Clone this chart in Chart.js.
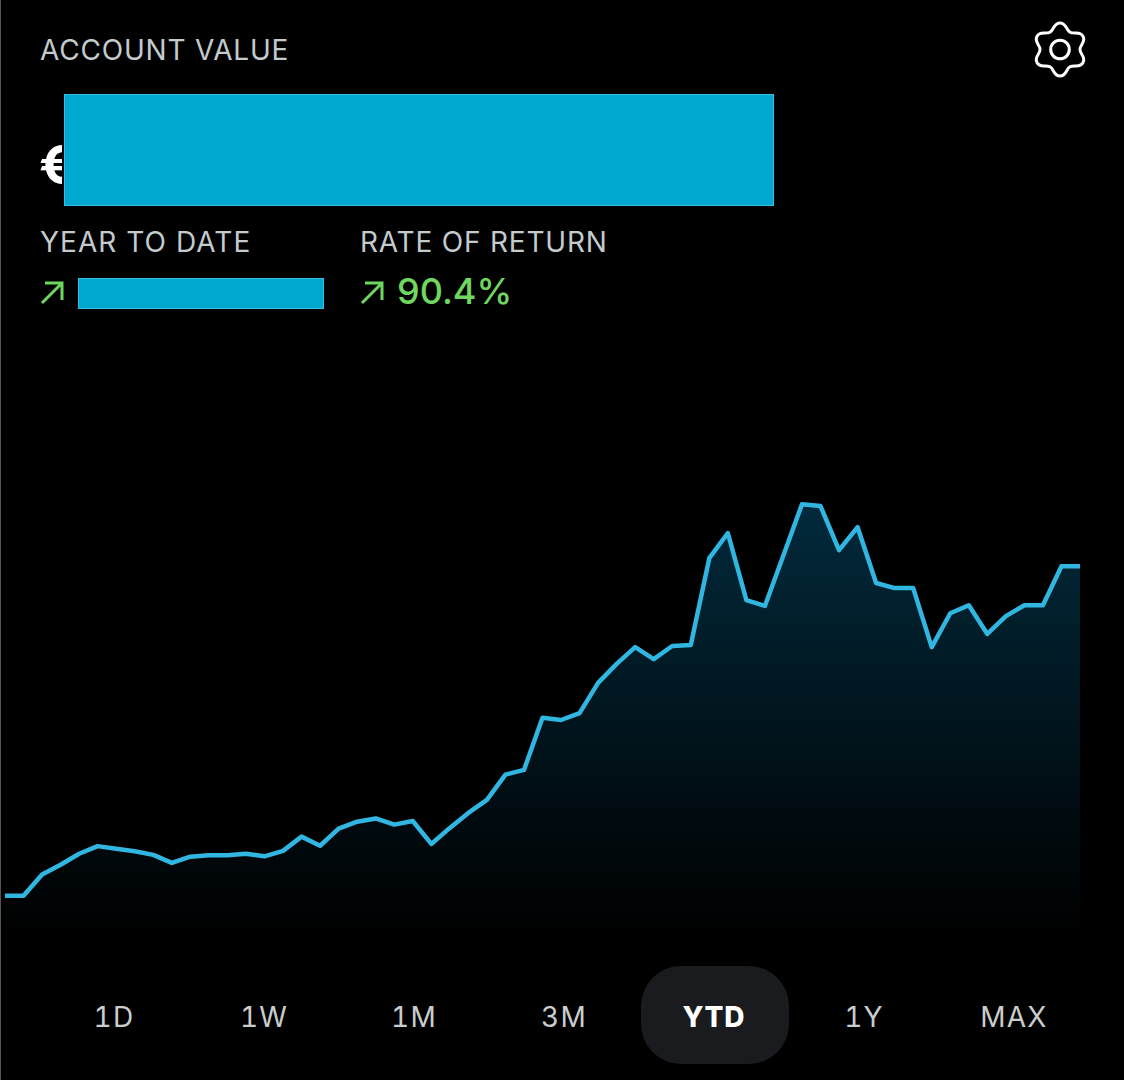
<!DOCTYPE html>
<html>
<head>
<meta charset="utf-8">
<title>Account value</title>
<script src="https://cdn.jsdelivr.net/npm/chart.js@4/dist/chart.umd.min.js"></script>
<style>
  html, body { margin: 0; padding: 0; background: #000; }
  body { position: relative; width: 1124px; height: 1080px; overflow: hidden; font-family: Inter, sans-serif; }
  .edge { position: absolute; left: 0; top: 0; width: 1px; height: 1080px; background: #555; }
  .label { position: absolute; font-size: 28px; line-height: 32px; color: #c3cbcd; white-space: nowrap; letter-spacing: 0.8px; }
  .box { position: absolute; box-sizing: border-box; background: #00a8cf; border: 1px solid #35bfe6; }
  .euro { position: absolute; left: 39px; top: 135px; width: 23px; overflow: hidden; font-size: 54px; line-height: 60px; font-weight: 700; color: #fff; }
  .rate { position: absolute; left: 397px; top: 268px; font-size: 36px; line-height: 46px; color: #6fd65f; font-weight: 500; }
  svg { position: absolute; }
  #wrap { position: absolute; left: 0; top: 400px; width: 1124px; height: 555px; }
  .pill { position: absolute; left: 641px; top: 966px; width: 148px; height: 98px; border-radius: 40px; background: #1a1b1f; }
  .range { position: absolute; top: 1001px; width: 150px; text-align: center; font-size: 28px; line-height: 32px; color: #c9cdcd; letter-spacing: 1.2px; font-feature-settings: "tnum"; }
  .range.active { color: #fff; font-weight: 800; letter-spacing: 0.8px; }
</style>
</head>
<body>
<div class="edge"></div>
<div class="label" style="left:40px;top:34px">ACCOUNT VALUE</div>
<svg id="gear" style="left:1020px;top:9px" width="80" height="80" viewBox="1020 9 80 80" fill="none" stroke="#fff" stroke-width="3"></svg>
<div class="euro">€</div>
<div class="box" style="left:64px;top:94px;width:710px;height:112px"></div>
<div class="label" style="left:40px;top:226px;letter-spacing:1.05px">YEAR TO DATE</div>
<div class="label" style="left:360px;top:226px">RATE OF RETURN</div>
<svg style="left:36px;top:276px" width="34" height="34" viewBox="0 0 34 34" fill="none" stroke="#6fd65f" stroke-width="3"><path d="M6 27 L26 7 M9 7 H26 V24"/></svg>
<div class="box" style="left:78px;top:278px;width:246px;height:31px"></div>
<svg style="left:356px;top:276px" width="34" height="34" viewBox="0 0 34 34" fill="none" stroke="#6fd65f" stroke-width="3"><path d="M6 27 L26 7 M9 7 H26 V24"/></svg>
<div class="rate">90.4%</div>
<div id="wrap"><canvas id="myChart"></canvas></div>
<div class="pill"></div>
<div id="ranges"></div>

<script>
  // rate of return in %
  const returnValues = [
    0, 0, 5.8, 8.5, 11.5, 13.6, 12.9, 12.2, 11.2, 9.0,
    10.7, 11.1, 11.1, 11.5, 10.8, 12.3, 16.2, 13.7, 18.4, 20.3,
    21.2, 19.5, 20.5, 14.2, 18.6, 22.7, 26.3, 33.2, 34.5, 48.8,
    48.2, 50.1, 58.4, 63.6, 68.2, 64.9, 68.5, 68.8, 92.6, 99.5,
    81.1, 79.5, 93.4, 107.4, 106.9, 94.8, 101.1, 85.8, 84.4, 84.4,
    68.2, 77.5, 79.7, 71.8, 76.7, 79.7, 79.7, 90.4, 90.4
  ];
  const rangeLabels = ['1D', '1W', '1M', '3M', 'YTD', '1Y', 'MAX'];
  const activeRange = 'YTD';

  const xValues = returnValues.map((v, i) => i + 1);

  // range selector along the bottom
  const ranges = document.getElementById('ranges');
  rangeLabels.forEach((label, i) => {
    const item = document.createElement('div');
    item.textContent = label;
    item.className = label === activeRange ? 'range active' : 'range';
    item.style.left = (39 + i * 150) + 'px';
    ranges.appendChild(item);
  });

  // settings icon, six lobes around a ring
  function gearPath(cx, cy, outer, inner) {
    let d = '';
    const pts = [];
    for (let i = 0; i < 12; i++) {
      const a = (-90 + i * 30) * Math.PI / 180;
      const r = i % 2 === 0 ? outer : inner;
      const h = i % 2 === 0 ? 6.5 : 5;
      pts.push({
        x: cx + r * Math.cos(a), y: cy + r * Math.sin(a),
        tx: -Math.sin(a) * h, ty: Math.cos(a) * h
      });
    }
    d += 'M' + pts[0].x + ' ' + pts[0].y;
    for (let i = 0; i < 12; i++) {
      const p = pts[i], q = pts[(i + 1) % 12];
      d += ' C' + (p.x + p.tx) + ' ' + (p.y + p.ty) + ' ' + (q.x - q.tx) + ' ' + (q.y - q.ty) + ' ' + q.x + ' ' + q.y;
    }
    return d + 'Z';
  }
  document.getElementById('gear').innerHTML =
    '<path d="' + gearPath(1060, 49.5, 26.5, 20) + '"/><circle cx="1060" cy="49.5" r="9.3"/>';

  new Chart(document.getElementById('myChart').getContext('2d'), {
    type: 'line',
    data: {
      labels: xValues,
      datasets: [{
        data: returnValues,
        borderColor: '#30b6e0',
        borderWidth: 4.5,
        borderJoinStyle: 'round',
        pointRadius: 0,
        lineTension: 0,
        fill: 'start',
        backgroundColor: (context) => {
          const area = context.chart.chartArea;
          if (!area) return 'transparent';
          const yScale = context.chart.scales.y;
          const gradient = context.chart.ctx.createLinearGradient(0, yScale.getPixelForValue(108), 0, yScale.getPixelForValue(-10));
          gradient.addColorStop(0, 'rgba(2, 42, 60, 1)');
          gradient.addColorStop(1, 'rgba(0, 0, 0, 1)');
          return gradient;
        }
      }]
    },
    options: {
      responsive: true,
      maintainAspectRatio: false,
      animation: false,
      layout: { padding: { left: 5, right: 44, top: 0, bottom: 1 } },
      plugins: { legend: { display: false }, tooltip: { enabled: false } },
      scales: {
        x: { display: false, offset: false },
        y: { display: false, min: -16, max: 136 }
      }
    }
  });
</script>
</body>
</html>
